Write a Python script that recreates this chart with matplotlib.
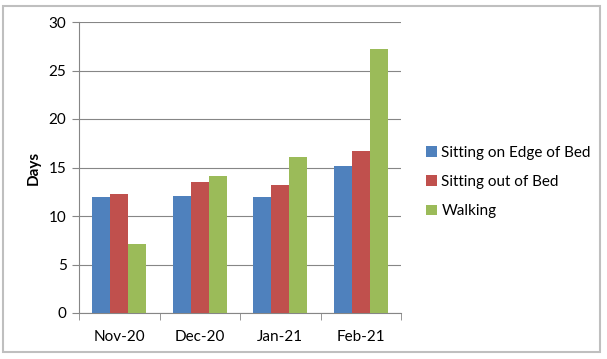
import matplotlib.pyplot as plt
import numpy as np
from matplotlib.patches import Rectangle

months = ['Nov-20', 'Dec-20', 'Jan-21', 'Feb-21']
edge_of_bed = [12.0, 12.1, 12.0, 15.2]
out_of_bed = [12.3, 13.5, 13.2, 16.7]
walking = [7.1, 14.1, 16.1, 27.2]
series_names = ['Sitting on Edge of Bed', 'Sitting out of Bed', 'Walking']
colors = ['#4F81BD', '#C0504D', '#9BBB59']

plt.rcParams['font.family'] = ['Lato', 'DejaVu Sans']

fig = plt.figure(figsize=(6.07, 3.59), dpi=100)
fig.patches.append(Rectangle((3 / 607, 7 / 359), 597 / 607, 346 / 359,
                             transform=fig.transFigure, fill=False,
                             edgecolor='#BFBFBF', linewidth=1.5))
ax = fig.add_axes([79 / 607, 46 / 359, 322 / 607, 291 / 359])

x = np.arange(len(months))
w = 0.224
for i, (vals, name, c) in enumerate(zip([edge_of_bed, out_of_bed, walking], series_names, colors)):
    ax.bar(x + (i - 1) * w, vals, width=w, color=c, label=name, zorder=3)

ax.set_xlim(-0.5, len(months) - 0.5)
ax.set_ylim(0, 30)
ax.set_yticks(range(0, 31, 5))
ax.set_xticks(x)
ax.set_xticklabels(months)
ax.set_xticks(np.arange(-0.5, len(months), 1), minor=True)
ax.tick_params(axis='x', which='major', length=0, pad=12, labelsize=11)
ax.tick_params(axis='x', which='minor', length=5, color='#868686', direction='out')
ax.tick_params(axis='y', length=5, color='#868686', labelsize=11, pad=4)
ax.grid(axis='y', color='#868686', linewidth=0.8, zorder=0)
for s in ['top', 'right']:
    ax.spines[s].set_visible(False)
for s in ['left', 'bottom']:
    ax.spines[s].set_color('#868686')
ax.set_ylabel('Days', fontsize=11, fontweight='bold', labelpad=6)

ax.legend(loc='center left', bbox_to_anchor=(1.035, 0.45), frameon=False,
          fontsize=11, handlelength=0.7, handleheight=0.7, handletextpad=0.3,
          labelspacing=1.0)

fig.savefig('out.png', dpi=100)
